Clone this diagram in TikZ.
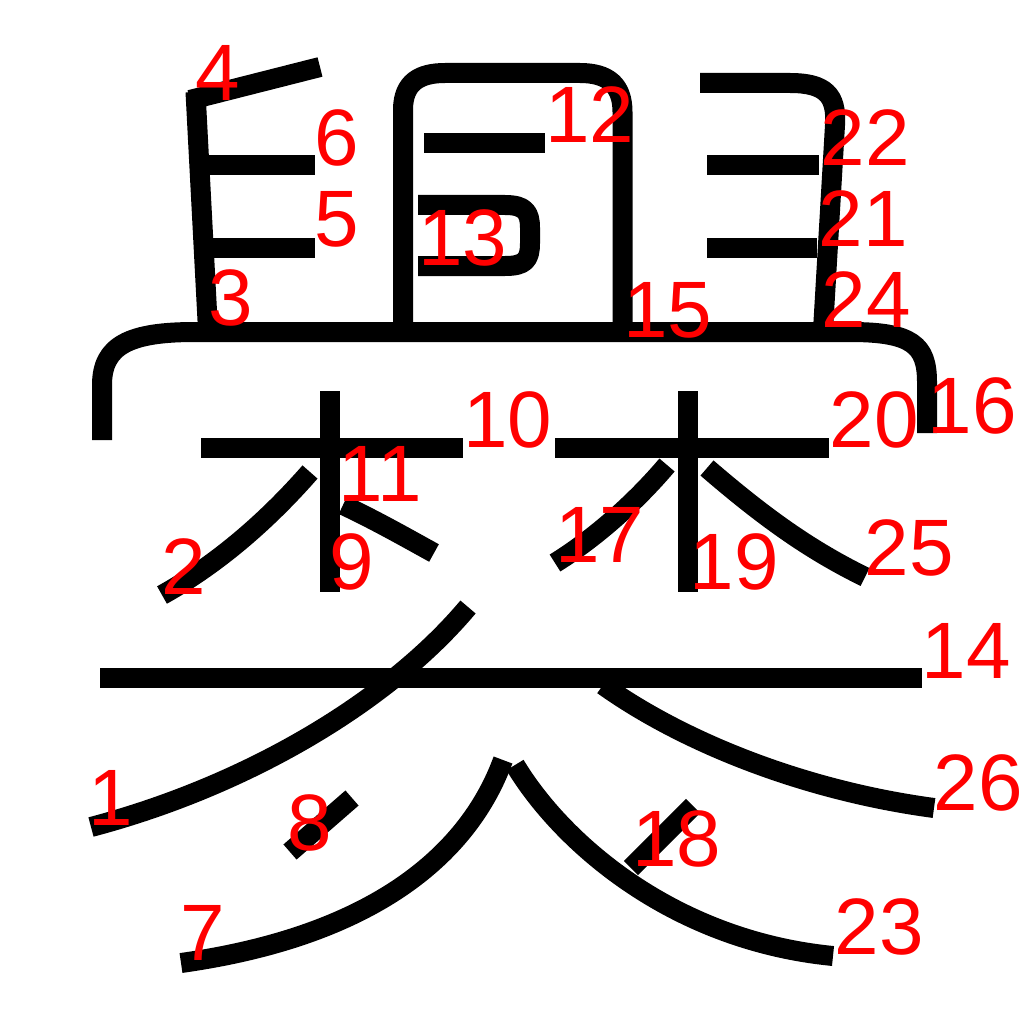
\documentclass[tikz,border=0pt]{standalone}
\usepackage{fontspec}
\setmainfont{Liberation Sans}
\begin{document}
\begin{tikzpicture}[x=1pt,y=-1pt,
  stroke/.style={line width=20pt, line cap=butt, line join=round},
  num/.style={text=red, inner sep=0pt, font=\fontsize{80}{80}\selectfont}]
\useasboundingbox (0,0) rectangle (1024,1024);
% strokes
\draw[stroke] (468,607) .. controls (390,700) and (250,785) .. (91,827);
\draw[stroke] (310,472) .. controls (275,512) and (225,560) .. (162,595);
\draw[stroke] (195.5,92) -- (208,330);
\draw[stroke] (190,100) -- (320,67);
\draw[stroke] (213,248) -- (315,248);
\draw[stroke] (208,165) -- (315,165);
\draw[stroke] (503,760) .. controls (470,850) and (380,935) .. (181,963);
\draw[stroke] (352,798) -- (290,852);
\draw[stroke] (330,391) -- (330,592);
\draw[stroke] (201,448) -- (463,448);
\draw[stroke] (343,505) .. controls (375,520) and (405,537) .. (434,553);
\draw[stroke] (403,330) -- (403,110) .. controls (403,82) and (420,73) .. (445,73) -- (580,73) .. controls (608,73) and (622.5,85) .. (622.5,112) -- (622.5,330);
\draw[stroke] (424,143.5) -- (545,143.5);
\draw[stroke] (418,205) -- (505,205) .. controls (525,205) and (530,212) .. (530,228) -- (530,243) .. controls (530,260) and (525,266) .. (505,266) -- (418,266);
\draw[stroke] (100,678) -- (922,678);
\draw[stroke] (102,440) -- (102,385) .. controls (102,345) and (130,332) .. (195,332) -- (850,332) .. controls (912,332) and (927,345) .. (927,382) -- (927,433);
\draw[stroke] (667,465) .. controls (640,497) and (600,535) .. (555,563);
\draw[stroke] (693,806) -- (631,868);
\draw[stroke] (688,391) -- (688,592);
\draw[stroke] (555,448) -- (829,448);
\draw[stroke] (707,165.5) -- (819,165.5);
\draw[stroke] (707,248) -- (817,248);
\draw[stroke] (700,83) -- (790,83) .. controls (825,83) and (837,95) .. (835,125) -- (823,330);
\draw[stroke] (515,765) .. controls (560,840) and (670,940) .. (833,956);
\draw[stroke] (707,468) .. controls (765,518) and (810,550) .. (865,577);
\draw[stroke] (603,685) .. controls (680,740) and (800,790) .. (934,808);
% labels
\node[num] (n1) at (111,798) {1};
\node[num] (n2) at (184,567) {2};
\node[num] (n3) at (231,298) {3};
\node[num] (n4) at (218,73) {4};
\node[num] (n5) at (337,219) {5};
\node[num] (n6) at (337,138) {6};
\node[num] (n7) at (203,933) {7};
\node[num] (n8) at (310,823) {8};
\node[num] (n9) at (352,562) {9};
\node[num] (n10) at (508,420) {10};
\node[num] (n11) at (380,474) {11};
\node[num] (n12) at (590,115) {12};
\node[num] (n13) at (463,238) {13};
\node[num] (n14) at (966,651) {14};
\node[num] (n15) at (668,310) {15};
\node[num] (n16) at (972,406) {16};
\node[num] (n17) at (600,535) {17};
\node[num] (n18) at (677,839) {18};
\node[num] (n19) at (734,562) {19};
\node[num] (n20) at (874,420) {20};
\node[num] (n21) at (863,219) {21};
\node[num] (n22) at (865,138) {22};
\node[num] (n23) at (879,927) {23};
\node[num] (n24) at (866,300) {24};
\node[num] (n25) at (909,548) {25};
\node[num] (n26) at (978,783) {26};
\end{tikzpicture}
\end{document}
